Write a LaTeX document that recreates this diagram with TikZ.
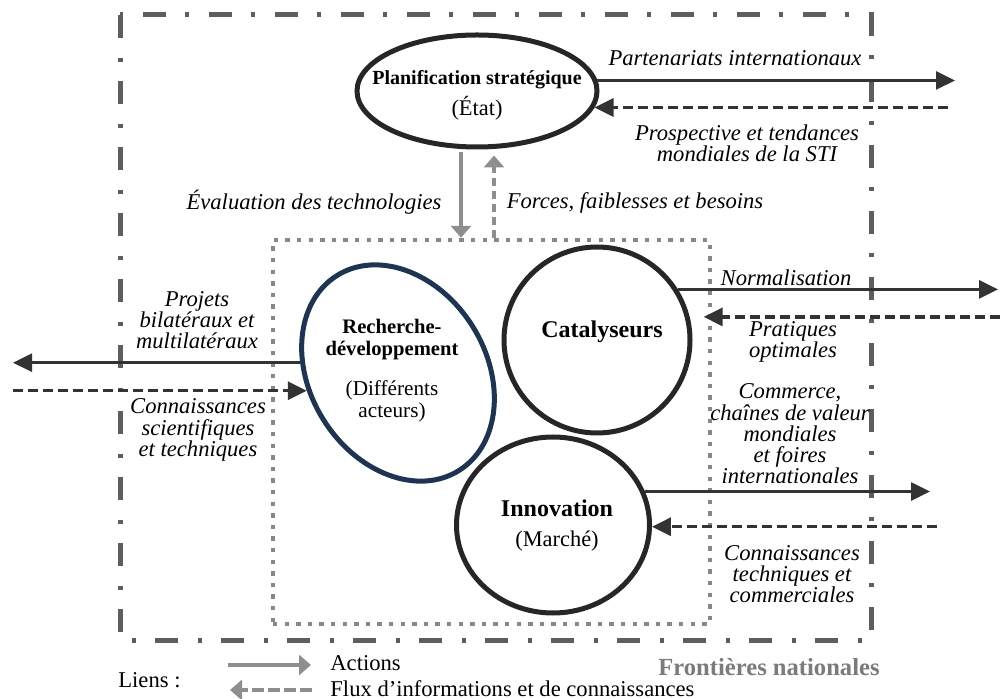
\documentclass[tikz,border=0pt]{standalone}
\usepackage{fontspec}
\setmainfont{Liberation Serif}
\usetikzlibrary{arrows.meta,shapes.geometric}

\definecolor{bordcol}{HTML}{5E5E5E}
\definecolor{dotcol}{HTML}{878787}
\definecolor{ringcol}{HTML}{262626}
\definecolor{rdcol}{HTML}{1D3452}
\definecolor{darkcol}{HTML}{333333}
\definecolor{graycol}{HTML}{8E8E8E}
\definecolor{frontcol}{HTML}{7B7B7B}

\begin{document}
\begin{tikzpicture}[x=0.5pt,y=-0.5pt,
  lbl/.style={font=\fontsize{11.3}{10.6}\selectfont\itshape,align=center,inner sep=0pt},
  leg/.style={font=\fontsize{11.3}{12}\selectfont,inner sep=0pt,anchor=west},
  ring/.style={draw=ringcol,line width=2.5pt,inner sep=0pt},
  ringtitle/.style={font=\fontsize{12}{12}\selectfont\bfseries,inner sep=0pt},
  ringactor/.style={font=\fontsize{11.2}{12}\selectfont,inner sep=0pt},
  act/.style={draw=darkcol,line width=1.4pt,-{Triangle[length=9.5pt,width=9pt]}},
  flux/.style={act,line width=1.7pt,dash pattern=on 5pt off 2.5pt},
  gact/.style={draw=graycol,line width=1.8pt,-{Triangle[length=6pt,width=10pt]}},
  gflux/.style={gact,dash pattern=on 4pt off 2.5pt}]
\useasboundingbox (0,0) rectangle (1000,699);

% national borders and the core
\draw[draw=bordcol,line width=2.5pt,dash pattern=on 11.5pt off 10pt on 2pt off 9.5pt] (120,15) rectangle (871,640);
\node[draw=dotcol,line width=2.2pt,dash pattern=on 2.2pt off 3.6pt,minimum width=218.5pt,minimum height=192pt,inner sep=0pt] (core) at (491.5,432) {};

% actors
\node[ring,ellipse,minimum width=120pt,minimum height=56pt] (plan) at (477,91) {};
\node[font=\fontsize{10}{12}\selectfont\bfseries,inner sep=0pt] (plantitle) at (477,80) {Planification stratégique};
\node[ringactor] (planactor) at (477,108) {(État)};

\node[ring,draw=rdcol,ellipse,minimum width=88pt,minimum height=115pt,rotate=32] (rd) at (398,373) {};
\node[font=\fontsize{10.3}{11}\selectfont\bfseries,align=center,inner sep=0pt] (rdtitle) at (392,340) {Recherche-\\développement};
\node[font=\fontsize{10.6}{11}\selectfont,align=center,inner sep=0pt] (rdactor) at (392,401) {(Différents\\acteurs)};

\node[ring,circle,minimum size=93pt] (cat) at (597,340) {};
\node[ringtitle] (cattitle) at (602,332) {Catalyseurs};

\node[ring,ellipse,minimum width=96.5pt,minimum height=88pt] (inno) at (553,525) {};
\node[ringtitle] (innotitle) at (557,508) {Innovation};
\node[ringactor] (innoactor) at (557,541) {(Marché)};

% links across the borders
\coordinate (eastP) at (955,80);
\coordinate (eastQ) at (948,107);
\coordinate (westA) at (13,363);
\coordinate (westB) at (13,391);
\coordinate (eastN) at (998,291);
\coordinate (eastO) at (1000,318);
\coordinate (eastI) at (930,493);
\coordinate (eastJ) at (937,527);

\draw[act] (plan.5) -- (plan.5 -| eastP);
\draw[flux] (plan.-8 -| eastQ) -- (plan.-8);
\draw[gact,shorten <=1.5pt] ([xshift=-8pt]plan.south) -- ([xshift=-8pt]plan.south |- core.north);
\draw[gflux,shorten >=3pt] ([xshift=8.5pt]plan.south |- core.north) -- ([xshift=8.5pt]plan.south);
\draw[act] (rd.142) -- (rd.142 -| westA);
\draw[flux] (rd.159 -| westB) -- (rd.159);
\draw[act] (cat.32) -- (cat.32 -| eastN);
\draw[flux,shorten >=7pt] (cat.14 -| eastO) -- (cat.14);
\draw[act] (inno.20) -- (inno.20 -| eastI);
\draw[flux] (inno.-1 -| eastJ) -- (inno.-1);

% labels
\node[lbl] (partlbl) at (735,58) {Partenariats internationaux};
\node[lbl] (prosplbl) at (747,143) {Prospective et tendances\\mondiales de la STI};
\node[lbl] (evallbl) at (314,202) {Évaluation des technologies};
\node[lbl] (forceslbl) at (635,203) {Forces, faiblesses et besoins};
\node[lbl] (projlbl) at (197,320) {Projets\\bilatéraux et\\multilatéraux};
\node[lbl] (scilbl) at (198,430) {Connaissances\\scientifiques\\et techniques};
\node[lbl] (normlbl) at (786,278) {Normalisation};
\node[lbl] (pratlbl) at (793,342) {Pratiques\\optimales};
\node[lbl] (commlbl) at (790,434) {Commerce,\\chaînes de valeur\\mondiales\\et foires\\internationales};
\node[lbl] (techlbl) at (792,574) {Connaissances\\techniques et\\commerciales};
\node[font=\fontsize{12.3}{12}\selectfont\bfseries,text=frontcol,inner sep=0pt] (frontlbl) at (769,667) {Frontières nationales};

% legend
\coordinate (legA1) at (228,665);
\coordinate (legA2) at (311,665);
\coordinate (legB1) at (312,690);
\coordinate (legB2) at (230,690);
\node[leg] (lienslbl) at (118,680) {Liens :};
\node[leg] (actlbl) at (330,663) {Actions};
\node[leg] (fluxlbl) at (330,689) {Flux d’informations et de connaissances};
\draw[gact] (legA1) -- (legA2);
\draw[gflux,dash pattern=on 6pt off 2pt] (legB1) -- (legB2);
\end{tikzpicture}
\end{document}
